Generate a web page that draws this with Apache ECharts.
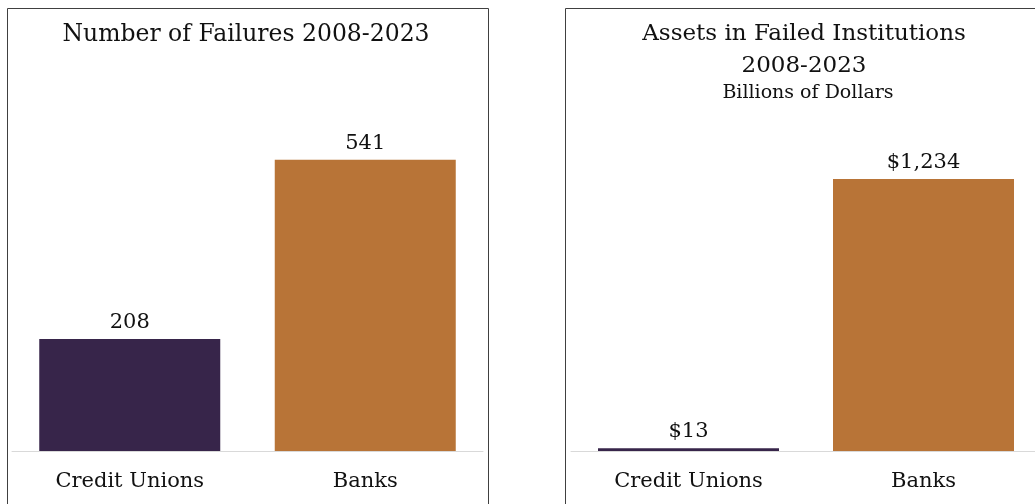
<!DOCTYPE html>
<html>
<head>
<meta charset="utf-8">
<script src="https://cdn.jsdelivr.net/npm/echarts@6/dist/echarts.min.js"></script>
<style>
  html, body { margin: 0; padding: 0; background: #fff; overflow: hidden; }
  /* the right panel runs past the window edge in the original */
  #main { width: 1049px; height: 504px; }
</style>
</head>
<body>
<div id="main"></div>
<script>
// data
var categories = ['Credit Unions', 'Banks']
var failures = [208, 541]
var assets = [13, 1234]   // billions of dollars
var barColors = ['#37254a', '#b87437']

var FONT = 'DejaVu Serif'

var chart = echarts.init(document.getElementById('main'))

function barData(values) {
    return values.map(function (v, i) {
        return { value: v, itemStyle: { color: barColors[i] } }
    })
}

function xAxisFor(idx) {
    return {
        type: 'category',
        gridIndex: idx,
        data: categories,
        axisTick: { show: false },
        axisLine: { lineStyle: { color: '#d9d9d9', width: 1 } },
        axisLabel: { color: '#111', fontFamily: FONT, fontSize: 21, margin: 20 }
    }
}

var option = {
    animation: false,
    graphic: [
        // panel borders
        { type: 'rect', shape: { x: 7.5, y: 8.5, width: 481, height: 520 },
          style: { fill: 'none', stroke: '#404040', lineWidth: 1 } },
        { type: 'rect', shape: { x: 565.5, y: 8.5, width: 482, height: 520 },
          style: { fill: 'none', stroke: '#404040', lineWidth: 1 } },
        // titles
        { type: 'text', x: 246, y: 35,
          style: { text: 'Number of Failures 2008-2023', font: '23.5px "' + FONT + '"', fill: '#111',
                   textAlign: 'center', textVerticalAlign: 'middle' } },
        { type: 'text', x: 804, y: 34,
          style: { text: 'Assets in Failed Institutions', font: '23px "' + FONT + '"', fill: '#111',
                   textAlign: 'center', textVerticalAlign: 'middle' } },
        { type: 'text', x: 804, y: 66,
          style: { text: '2008-2023', font: '23px "' + FONT + '"', fill: '#111',
                   textAlign: 'center', textVerticalAlign: 'middle' } },
        { type: 'text', x: 808, y: 93,
          style: { text: 'Billions of Dollars', font: '19px "' + FONT + '"', fill: '#111',
                   textAlign: 'center', textVerticalAlign: 'middle' } }
    ],
    grid: [
        { left: 12, width: 471, top: 128, bottom: 53 },
        { left: 571, width: 470, top: 142.4, bottom: 53 }
    ],
    xAxis: [xAxisFor(0), xAxisFor(1)],
    yAxis: [
        { type: 'value', gridIndex: 0, min: 0, max: 600, show: false, splitLine: { show: false } },
        { type: 'value', gridIndex: 1, min: 0, max: 1400, show: false, splitLine: { show: false } }
    ],
    series: [
        {
            type: 'bar', xAxisIndex: 0, yAxisIndex: 0,
            barWidth: 181,
            data: barData(failures),
            label: { show: true, position: 'top', distance: 6, color: '#111',
                     fontFamily: FONT, fontSize: 21 }
        },
        {
            type: 'bar', xAxisIndex: 1, yAxisIndex: 1,
            barWidth: 181,
            data: barData(assets),
            label: { show: true, position: 'top', distance: 6, color: '#111',
                     fontFamily: FONT, fontSize: 21,
                     formatter: function (p) { return '$' + p.value.toLocaleString('en-US') } }
        }
    ]
}

chart.setOption(option)
</script>
</body>
</html>
